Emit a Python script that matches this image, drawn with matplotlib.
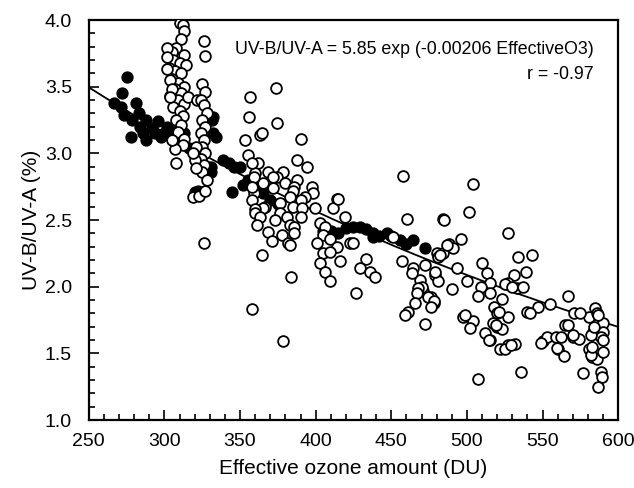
import numpy as np
import matplotlib.pyplot as plt
from matplotlib.ticker import MultipleLocator

plt.rcParams['font.family'] = ['Liberation Sans', 'DejaVu Sans']

# open circles (ozone DU, UV-B/UV-A %)
open_pts = [
    (310,3.98),(312,3.96),(313,3.92),(311,3.86),(308,3.79),(305,3.76),(313,3.74),(306,3.70),
    (310,3.68),(314,3.66),(303,3.64),(307,3.62),(311,3.60),(305,3.56),(309,3.53),(313,3.50),
    (307,3.48),(311,3.45),(304,3.43),(309,3.40),(313,3.37),(306,3.35),(310,3.32),(312,3.28),
    (308,3.25),(311,3.21),(309,3.16),(313,3.11),(312,3.06),(307,3.03),(308,2.93),(305,3.10),
    (301.6,3.79),(302,3.72),(301.6,3.63),(303.6,3.55),(305,3.48),(303.6,3.42),(315.6,3.42),(321.5,3.40),
    (326,3.84),(327,3.73),(325,3.52),(327,3.46),(324,3.40),(326,3.36),(328,3.30),(325,3.25),
    (327,3.20),(324,3.15),(326,3.10),(325,3.05),(327,3.00),(324,2.96),(326,2.91),(325,2.86),
    (328,2.80),(320,2.95),(321,3.05),(319,2.67),(323,2.68),(327,2.72),(326,2.33),(321,2.89),
    (319,3.00),
    (356.6,3.42),(374,3.49),(356,3.27),(374.5,3.23),(363,3.14),(390,3.11),(353,3.10),(364.6,3.15),
    (355,2.99),(362,2.93),(388,2.95),(394,2.90),(360,2.85),(368.5,2.86),(378.5,2.86),(374.5,2.82),
    (372,2.82),(365,2.78),(380,2.78),(388,2.80),(386,2.75),(397.6,2.75),(398,2.70),(372,2.74),
    (359,2.70),(385,2.72),(383,2.67),(393,2.67),(390,2.65),(358,2.65),(376.5,2.63),(366.5,2.60),
    (385,2.60),(399.7,2.59),(391,2.59),(365,2.59),(360,2.58),(414,2.66),(411.6,2.59),(376.5,2.55),
    (360,2.55),(373,2.50),(381,2.52),(390,2.52),(363,2.52),(403,2.48),(419.5,2.52),(361,2.46),
    (383,2.46),(386,2.45),(406,2.45),(368.5,2.41),(378,2.39),(386,2.40),(405,2.39),(409.6,2.36),
    (371,2.34),(382,2.33),(383,2.31),(401,2.33),(414,2.30),(423,2.33),(364.6,2.24),(405,2.25),
    (409.6,2.26),(416,2.19),(403,2.18),(433,2.21),(429.5,2.14),(436,2.11),(439,2.07),(406,2.11),
    (409.6,2.04),(384,2.07),(427,1.95),(358,1.83),(378.5,1.59),(358,2.93),(359,2.82),(358,2.75),
    (415,2.66),(425,2.33),(451,2.37),
    (458,2.83),(460.6,2.51),(484.4,2.51),(464.6,2.14),(469,2.05),(471,1.97),(480,2.25),(504,2.77),
    (501.6,2.56),(485,2.50),(527.5,2.40),(496,2.36),(488,2.32),(491,2.29),(484,2.25),(481,2.22),
    (534,2.22),(543,2.24),(510,2.18),(472.5,2.16),(493.7,2.14),(539,2.11),(513.6,2.10),(479,2.09),
    (531,2.09),(500,2.04),(527,2.03),(515.6,2.03),(481,2.04),(509,2.00),(533.4,1.99),(537,2.00),
    (490,1.98),(470.5,2.00),(515.6,1.95),(507.6,1.93),(523.5,1.91),(567,1.93),(476,1.92),(555,1.87),
    (585,1.84),(478.5,1.88),(518,1.85),(547,1.85),(540,1.81),(571,1.80),(580.5,1.77),(586,1.80),
    (590,1.73),(497.7,1.77),(504,1.74),(520,1.80),(527,1.77),(565,1.71),(502,1.69),(520,1.70),
    (517,1.73),(523.5,1.68),(512,1.65),(583.7,1.66),(590,1.66),(588.6,1.62),(550.6,1.59),(553,1.62),
    (558.6,1.62),(562,1.62),(570,1.62),(574,1.61),(515,1.60),(532,1.57),(527.5,1.56),(522,1.53),
    (525.5,1.53),(560,1.53),(564,1.48),(580.5,1.53),(583,1.47),(586,1.46),(590,1.51),(536,1.36),
    (576.5,1.35),(588.6,1.36),(589,1.32),(587,1.25),(507.6,1.31),(457,2.19),(464,2.10),(468,1.99),
    (467,1.95),(466,1.88),(461,1.81),(459,1.79),(474.5,1.92),(478,1.89),(476,1.85),(479,2.11),
    (482.5,2.24),(487,2.31),(472.5,1.72),(587,1.79),(590,1.60),(582,1.49),(583,1.55),(582,1.64),
    (584,1.70),(570,1.64),(566.6,1.71),(575,1.80),(542,1.80),(549,1.58),(559.6,1.54),(499,1.79),
    (519,1.71),(514.6,1.60),(529,1.56),(521,1.81),(525.5,2.02),(530,2.00),
]

# filled circles
filled_pts = [
    (275,3.57),(272,3.45),(267,3.38),(271,3.35),(281,3.38),(273,3.29),(283,3.30),(278.5,3.25),
    (288,3.25),(296,3.24),(284,3.20),(292,3.19),(301.6,3.20),(278,3.12),(288,3.10),(298,3.12),
    (309.6,3.18),(304,3.17),(331.5,3.25),(334,3.12),(316,3.04),(331,2.90),(339,2.95),(346,2.90),
    (320,2.71),(322,2.72),(345,2.71),(352,2.76),(332,3.15),(332,3.27),(329,2.90),(331,2.86),
    (343,2.93),(350,2.90),(355,2.80),(360,2.75),(365,2.70),(370,2.65),(375,2.62),(313,3.15),
    (306,3.12),(300,3.15),(294,3.15),(286,3.15),(425,2.45),(429.5,2.45),(438,2.37),(447,2.40),
    (456,2.35),(464.6,2.35),(472.5,2.29),(438,2.40),(410,2.42),(415,2.40),(420,2.44),(433,2.43),
    (442,2.38),(450,2.38),(460,2.32),(405,2.42),
]

fit_a = 5.85
fit_b = -0.00206

ox = [p[0] for p in open_pts]
oy = [p[1] for p in open_pts]
fx = [p[0] for p in filled_pts]
fy = [p[1] for p in filled_pts]

fig = plt.figure(figsize=(6.34, 4.88), dpi=100)
ax = fig.add_axes([0.140, 0.139, 0.835, 0.820])

xx = np.linspace(250, 600, 200)
ax.plot(xx, fit_a * np.exp(fit_b * xx), color='black', lw=1.3, zorder=1)
ax.scatter(fx, fy, s=60, c='black', edgecolors='black', linewidths=1.1, zorder=2)
ax.scatter(ox, oy, s=60, c='white', edgecolors='black', linewidths=1.3, zorder=3)

ax.set_xlim(250, 600)
ax.set_ylim(1.0, 4.0)
ax.xaxis.set_major_locator(MultipleLocator(50))
ax.xaxis.set_minor_locator(MultipleLocator(10))
ax.yaxis.set_major_locator(MultipleLocator(0.5))
ax.yaxis.set_minor_locator(MultipleLocator(0.1))
ax.yaxis.set_major_formatter(plt.FormatStrFormatter('%.1f'))
ax.tick_params(which='both', direction='in', top=False, right=False, labelsize=14, width=1.2)
ax.tick_params(which='major', length=7)
ax.tick_params(which='minor', length=4)
ax.tick_params(axis='x', which='major', pad=9)
ax.tick_params(axis='y', which='major', pad=12)
for sp in ax.spines.values():
    sp.set_linewidth(1.6)

ax.set_xlabel('Effective ozone amount (DU)', fontsize=15, labelpad=7)
ax.set_ylabel('UV-B/UV-A (%)', fontsize=15, labelpad=3)

ax.text(0.953, 0.948, 'UV-B/UV-A = 5.85 exp (-0.00206 EffectiveO3)', transform=ax.transAxes,
        ha='right', va='top', fontsize=12.8)
ax.text(0.953, 0.885, 'r = -0.97', transform=ax.transAxes, ha='right', va='top', fontsize=12.8)

plt.savefig('out.png', dpi=100)
